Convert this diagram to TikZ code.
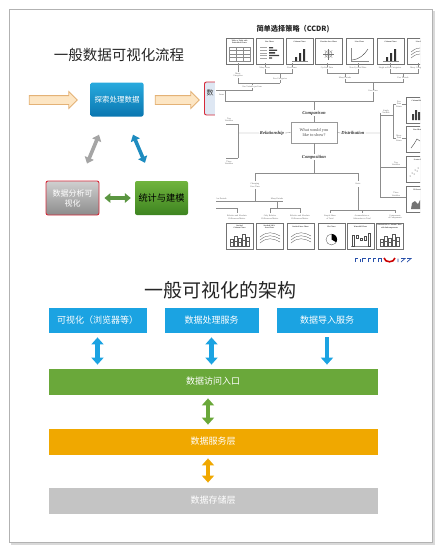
\documentclass[tikz,border=0pt]{standalone}
\usepackage{fontspec}
\newfontfamily\cjk{Noto Sans CJK SC}
\newfontfamily\chartfont{Liberation Serif}
\usetikzlibrary{positioning,calc,arrows.meta,shapes.arrows,shadows}

\definecolor{flowblueA}{RGB}{40,170,222}
\definecolor{flowblueB}{RGB}{10,118,176}
\definecolor{flowgreenA}{RGB}{112,180,62}
\definecolor{flowgreenB}{RGB}{62,132,32}
\definecolor{flowgrayA}{RGB}{208,208,208}
\definecolor{flowgrayB}{RGB}{140,140,140}
\definecolor{flowred}{RGB}{214,42,58}
\definecolor{showfill}{RGB}{222,231,243}
\definecolor{peachfill}{RGB}{253,230,196}
\definecolor{peachdraw}{RGB}{228,178,118}
\definecolor{archblue}{RGB}{27,163,226}
\definecolor{archgreen}{RGB}{106,168,58}
\definecolor{archorange}{RGB}{240,168,0}
\definecolor{archgray}{RGB}{196,196,196}
\definecolor{arrowgray}{RGB}{165,165,165}
\definecolor{arrowblue}{RGB}{30,140,192}
\definecolor{logoblue}{RGB}{40,80,170}

% small chart thumbnail: x, y, title, icon
\newcommand\thumb[4]{%
  \begin{scope}[shift={(#1,#2)}]
    \fill[black!18] (0.7,0.7) rectangle (27.7,26.7);
    \draw[black!55, fill=white, line width=0.3pt] (0,0) rectangle (27,26);
    \node[thumbtitle] at (13.5,3.6) {#3};
    #4
  \end{scope}}

% thumbnail icons
\newcommand\icontable{\draw[black!45, line width=0.2pt] (3,9) rectangle (24,23) (3,12.5) -- (24,12.5) (3,16) -- (24,16) (3,19.5) -- (24,19.5) (10,9) -- (10,23) (17,9) -- (17,23);}
\newcommand\iconhbars{\fill[black!75] (13,9) rectangle (17,10.3) (13,11.6) rectangle (21,12.9) (13,14.2) rectangle (19,15.5) (13,16.8) rectangle (23,18.1) (13,19.4) rectangle (16,20.7);
  \foreach \yy in {9.6,12.2,14.8,17.4,20} \draw[black!35, line width=0.4pt] (4,\yy) -- (11,\yy);}
\newcommand\iconcols{\draw[black!45, line width=0.2pt] (6,23) -- (22,23); \fill[black!80] (9,23) rectangle (11,19) (13,23) rectangle (15,15) (17,23) rectangle (19,11);}
\newcommand\iconcirc{\draw[black!60, line width=0.3pt] (13.5,16) circle (3.5); \foreach \aa in {0,45,...,315} \draw[black!55, line width=0.2pt] (13.5,16) -- +(\aa:5.5);}
\newcommand\iconline{\draw[black!45, line width=0.2pt] (5,10) -- (5,23) -- (23,23); \draw[black!75, line width=0.4pt] (6,22) .. controls (14,21) and (18,17) .. (22,11);}
\newcommand\iconwave{\foreach \dd in {0,3,6} \draw[black!70, line width=0.3pt] (4,{14+\dd}) .. controls (11,{8+\dd}) and (17,{9+\dd}) .. (24,{13+\dd});}
\newcommand\iconpie{\draw[black!70, line width=0.3pt] (13.5,16.5) circle (5.5); \fill[black] (13.5,16.5) -- plot[domain=-90:30, samples=9] ({13.5+5.5*cos(\x)},{16.5+5.5*sin(\x)}) -- cycle;}
\newcommand\iconwfall{\draw[black!45, line width=0.2pt] (4,23) -- (24,23); \draw[black!70, line width=0.3pt] (5,23) rectangle (7.5,12) (9,12) rectangle (11.5,15) (13,15) rectangle (15.5,17) (17,17) rectangle (19.5,13) (21,23) rectangle (23.5,10);}
\newcommand\iconstack{\foreach \xx/\hh in {4/7,8/10,12/8,16/12,20/9} {\draw[black!65, line width=0.25pt] (\xx,23) rectangle ({\xx+3},{23-\hh}); \draw[black!65, line width=0.25pt] (\xx,{23-\hh/2}) -- ({\xx+3},{23-\hh/2});}}
\newcommand\iconhist{\fill[black!75] (6,23) rectangle (8,17) (9,23) rectangle (11,13) (12,23) rectangle (14,15);}
\newcommand\iconlhist{\draw[black!75, line width=0.4pt] (5,22) -- (8,18) -- (11,13) -- (14,15);}
\newcommand\iconscatter{\foreach \px/\py in {4/20,6/17,8/18,9/14,11/15,12/12} \fill[black!75] (\px,\py) circle (0.5);}
\newcommand\iconarea{\fill[black!55] (5,23) -- (6,17) -- (9,15) -- (12,18) -- (14,14) -- (14,23) -- cycle;}

\begin{document}
\begin{tikzpicture}[x=1pt, y=-1pt,
  title/.style={font=\cjk\fontsize{#1}{#1}\selectfont, text=black!85, inner sep=0pt},
  flowbox/.style={rounded corners=2pt, minimum width=53pt, minimum height=34pt, inner sep=1pt, align=center, font=\cjk\fontsize{7.5}{10}\selectfont, text=white},
  peacharrow/.style={single arrow, single arrow head extend=4pt, inner sep=4pt, fill=peachfill, draw=peachdraw, line width=0.8pt},
  flowdbl/.style={line width=3.6pt, draw=#1, arrows={Triangle[width=9.5pt,length=6pt]-Triangle[width=9.5pt,length=6pt]}},
  svcbox/.style={fill=archblue, minimum height=26pt, inner sep=1pt, font=\cjk\fontsize{9}{10}\selectfont, text=white, draw=white, line width=0.8pt, drop shadow={shadow xshift=0.6pt, shadow yshift=-0.8pt, opacity=0.3}},
  layer/.style={svcbox, minimum width=330pt, minimum height=27pt},
  archdbl/.style={line width=4.5pt, draw=#1, arrows={Triangle[width=12pt,length=7pt]-Triangle[width=12pt,length=7pt]}},
  archsingle/.style={line width=4.5pt, draw=#1, arrows={-Triangle[width=12pt,length=7pt]}},
  chartline/.style={black!45, line width=0.35pt},
  clabel/.style={font=\chartfont\fontsize{2.2}{2.5}\selectfont, text=black!60, align=center, inner sep=0.4pt, fill=white},
  cat/.style={font=\chartfont\bfseries\itshape\fontsize{4.6}{5}\selectfont, text=black!80, fill=white, inner sep=0.8pt},
  askbox/.style={draw=black!40, fill=white, minimum width=46pt, minimum height=21pt, align=center, font=\chartfont\fontsize{4.3}{5.4}\selectfont, text=black!70, inner sep=1pt},
  thumbtitle/.style={font=\chartfont\bfseries\fontsize{1.9}{2.2}\selectfont, align=center, inner sep=0pt, text=black!80}
]
\useasboundingbox (0,0) rectangle (442,552);

% slide frame
\fill[black!15] (11,11) rectangle (434.5,545);
\draw[black!30, fill=white] (9,9) rectangle (432,542);

% ---- general flow ----
\node[title=14.5] (flowtitle) at (119,55) {一般数据可视化流程};

\node[flowbox, top color=flowblueA, bottom color=flowblueB] (explore) at (117,99.5) {探索处理数据};
\node[flowbox, top color=flowgrayA, bottom color=flowgrayB, draw=flowred, line width=0.9pt, font=\cjk\fontsize{8}{10}\selectfont] (analysis) at (72.5,198) {数据分析可\\视化};
\node[flowbox, top color=flowgreenA, bottom color=flowgreenB, text=black, font=\cjk\fontsize{9.2}{10}\selectfont] (model) at (161.5,198) {统计与建模};
\node[flowbox, anchor=west, fill=showfill, draw=flowred, line width=0.9pt, minimum height=33pt] (show) at (204,98.5) {};
\node[font=\cjk\fontsize{7}{8}\selectfont, text=black!80, inner sep=0pt] at ([xshift=6pt,yshift=5.5pt]show.west) {数};

\node[peacharrow, minimum height=48pt] (inarrow) at (51,100) {};
\node[peacharrow, minimum height=44pt] (outarrow) at (175,100) {};

\draw[flowdbl=arrowgray] ([xshift=-18pt,yshift=-18pt]explore.south) -- ([xshift=14.5pt,yshift=17pt]analysis.north);
\draw[flowdbl=arrowblue] ([xshift=16pt,yshift=-18pt]explore.south) -- ([xshift=-16.5pt,yshift=18pt]model.north);
\draw[flowdbl=flowgreenB!85, shorten <=5pt, shorten >=4pt] (analysis.east) -- (model.west);

% ---- chart chooser (CCDR) ----
\fill[white] (215,10) rectangle (431,266);
\node[font=\cjk\bfseries\fontsize{7.2}{8}\selectfont, text=black!85] (ccdr) at (293,29) {简单选择策略（CCDR)};

\begin{scope}
\clip (216,10) rectangle (420,266);
% top row
\thumb{226}{38}{Table or Table with\\Embedded Charts}{\icontable}
\thumb{256}{38}{Bar Chart}{\iconhbars}
\thumb{286}{38}{Column Chart}{\iconcols}
\thumb{315}{38}{Circular Area Chart}{\iconcirc}
\thumb{346}{38}{Line Chart}{\iconline}
\thumb{377}{38}{Column Chart}{\iconcols}
\thumb{407}{38}{Line Chart}{\iconwave}
% right column
\thumb{406}{97}{Column Histogram}{\iconhist}
\thumb{406}{126}{Line Histogram}{\iconlhist}
\thumb{406}{156}{Scatter Chart}{\iconscatter}
\thumb{406}{186}{3D Area Chart}{\iconarea}
% bottom row
\thumb{226}{223}{Stacked\\Column Chart}{\iconstack}
\thumb{256}{223}{Stacked 100\%\\Area Chart}{\iconwave}
\thumb{287}{223}{Stacked Area Chart}{\iconwave}
\thumb{318}{223}{Pie Chart}{\iconpie}
\thumb{347}{223}{Waterfall Chart}{\iconwfall}
\thumb{376}{223}{Stacked 100\% Column Chart\\with Subcomponents}{\iconstack}

% tree lines
\draw[chartline] (238,63) -- (238,83) -- (280,83) (265,63) -- (265,73) -- (292,73) -- (292,63) (280,73) -- (280,83)
  (252,83) -- (252,90) -- (216,90) (225,90) -- (225,101) -- (373,101) -- (373,82)
  (327,63) -- (327,73) -- (358,73) -- (358,63) (390,63) -- (390,73) -- (418,73) -- (418,63)
  (345,73) -- (345,82) -- (403,82) -- (403,73);
\draw[chartline] (238,124) -- (238,158) (226,124) -- (238,124) (226,158) -- (238,158);
\draw[chartline] (380,113) -- (380,197) (380,115) -- (393,115) (393,104) -- (393,138)
  (393,104) -- (406,104) (393,138) -- (406,138) (380,167) -- (406,167) (380,197) -- (406,197);
\draw[chartline] (255,181) -- (255,173) -- (358,173) -- (358,181) (255,189) -- (255,201) (216,201) -- (283,201)
  (216,208) -- (237,208) -- (237,213) (277,201) -- (277,208) (270,213) -- (270,208) -- (300,208) -- (300,213)
  (358,187) -- (358,210) (330,213) -- (330,210) -- (395,210) -- (395,213) (362,210) -- (362,213);

% tree labels
\node[clabel] at (238,75) {Many\\Categories};
\node[clabel] at (265,68) {Many Items};
\node[clabel] at (292,68) {Few Items};
\node[clabel] at (327,68) {Cyclical Data};
\node[clabel] at (358,68) {Non-Cyclical Data};
\node[clabel] at (390,68) {Single or Few Categories};
\node[clabel] at (418,68) {Many Categories};
\node[clabel] at (280,79) {Few Categories};
\node[clabel] at (345,78) {Many Periods};
\node[clabel] at (403,78) {Few Periods};
\node[clabel] at (252,86.5) {One Variable per Item};
\node[clabel] at (373,91) {Over Time};
\node[clabel, anchor=west] at (218.5,94.5) {Items};
\node[clabel] at (229,120) {Two\\Variables};
\node[clabel] at (229,163) {Three\\Variables};
\node[clabel] at (386,112) {Single\\Variable};
\node[clabel] at (399,104) {Few\\Data\\Points};
\node[clabel] at (399,138) {Many\\Data\\Points};
\node[clabel] at (396,164) {Two\\Variables};
\node[clabel] at (396,194) {Three\\Variables};
\node[clabel] at (255,185) {Changing\\Over Time};
\node[clabel] at (358,184) {Static};
\node[clabel, anchor=west] at (215,199) {Few Periods};
\node[clabel] at (277,199) {Many Periods};
\node[clabel] at (237,217) {Relative and Absolute\\Differences Matter};
\node[clabel] at (270,217) {Only Relative\\Differences Matter};
\node[clabel] at (300,217) {Relative and Absolute\\Differences Matter};
\node[clabel] at (330,217) {Simple Share\\of Total};
\node[clabel] at (362,217) {Accumulation or\\Subtraction to Total};
\node[clabel] at (395,217) {Components\\of Components};
\end{scope}

% centre of the chooser
\node[askbox] (ask) at (314,132.5) {What would you\\like to show?};
\node[cat] (cmp) at (314,113) {Comparison};
\node[cat] (rel) at (272,133) {Relationship};
\node[cat] (dist) at (353,133) {Distribution};
\node[cat] (comp) at (314,157) {Composition};
\draw[chartline] (ask.north) -- (cmp.south) (cmp.north) -- (314,101);
\draw[chartline] (ask.west) -- (rel.east) (rel.west) -- (238,133);
\draw[chartline] (ask.east) -- (dist.west) (dist.east) -- (380,133);
\draw[chartline] (ask.south) -- (comp.north) (comp.south) -- (314,173);

% logo fragment
\draw[logoblue, line width=0.7pt] (355,262) -- (355,258.5) -- (358,258.5) (360,262) -- (360,258.5) (362.5,262) -- (362.5,258.5) -- (365.5,258.5) (368,262) -- (368,258.5) -- (371,258.5) (373,262) -- (373,258.5) -- (376,258.5) (378,262) -- (378,258.5) -- (381,258.5) -- (381,262);
\draw[red!80!black, line width=1.6pt] (384,258) .. controls (385,263) and (394,263) .. (395,258);
\draw[logoblue, line width=0.7pt] (398,262) -- (398,258.5) (401,258.5) -- (405,258.5) -- (401,262) (407,258.5) -- (411,258.5) -- (407,262);

% ---- general architecture ----
\node[title=19] (archtitle) at (220,290) {一般可视化的架构};

\node[svcbox, minimum width=99pt] (vis) at (97.5,320) {可视化（浏览器等）};
\node[svcbox, minimum width=95pt] (proc) at (211.5,320) {数据处理服务};
\node[svcbox, minimum width=102pt] (imp) at (327,320) {数据导入服务};

\node[layer, fill=archgreen] (entry) at (213,381.5) {数据访问入口};
\node[layer, fill=archorange] (service) at (213,441.5) {数据服务层};
\node[layer, fill=archgray] (store) at (213,500.5) {数据存储层};

\draw[archdbl=archblue, shorten <=4pt, shorten >=3pt] (vis.south) -- (vis.south |- entry.north);
\draw[archdbl=archblue, shorten <=4pt, shorten >=3pt] (proc.south) -- (proc.south |- entry.north);
\draw[archsingle=archblue, shorten <=4pt, shorten >=3pt] (imp.south) -- (imp.south |- entry.north);
\draw[archdbl=archgreen, shorten <=3pt, shorten >=3pt] ([xshift=-5pt]entry.south) -- ([xshift=-5pt]service.north);
\draw[archdbl=archorange, shorten <=3pt, shorten >=4pt] ([xshift=-5pt]service.south) -- ([xshift=-5pt]store.north);

\end{tikzpicture}
\end{document}
